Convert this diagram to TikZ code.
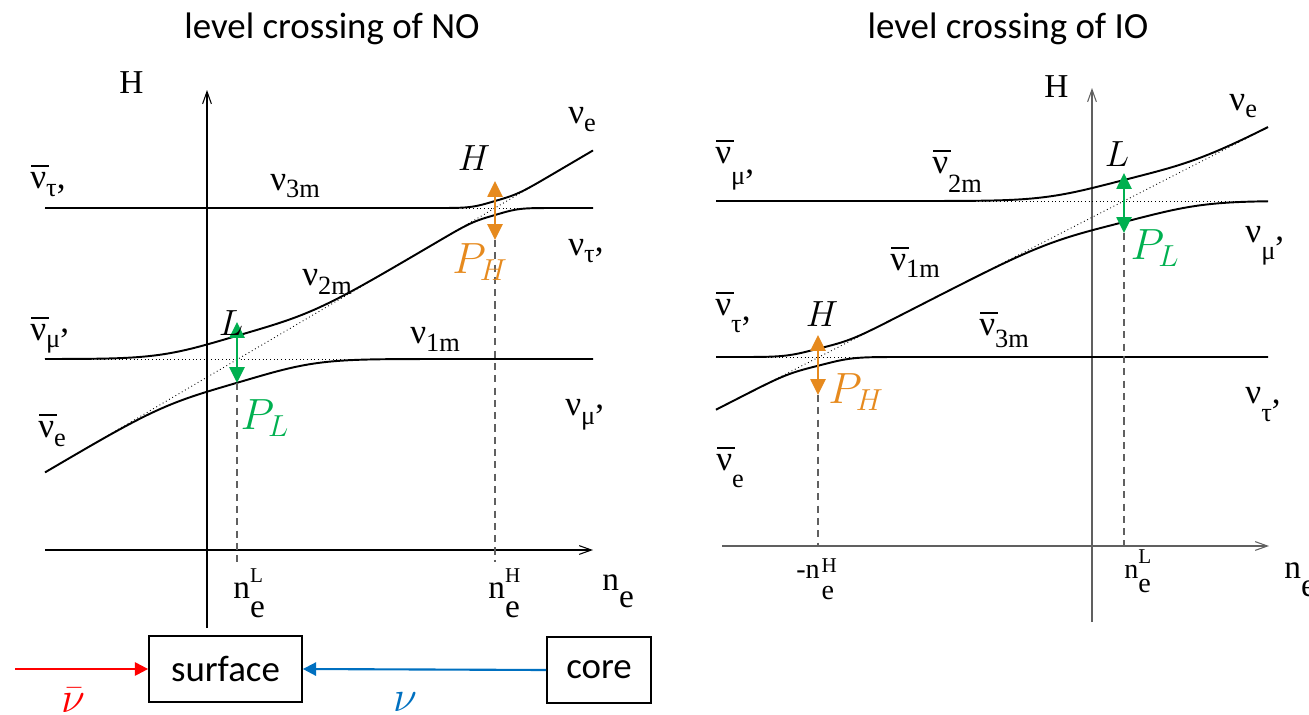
\documentclass[tikz,border=0pt]{standalone}
\usepackage{fontspec}
\setmainfont{Carlito}
\newfontfamily\tms{Liberation Serif}
\usetikzlibrary{arrows.meta}
\definecolor{orng}{HTML}{E68A1E}
\definecolor{grn}{HTML}{00B050}
\definecolor{redc}{HTML}{FF0000}
\definecolor{bluec}{HTML}{0070C0}
\definecolor{axg}{HTML}{606060}
\newcommand\ovl{\rlap{\kern0.03em\rule[0.6em]{0.5em}{0.06em}}}
\newcommand\sbs[2]{\raisebox{-#1}{\fontsize{15}{15}\selectfont#2}}
\newcommand\prm[1]{\raisebox{#1}{,}}
\newcommand\ssz{\fontsize{12}{12}\selectfont}
\tikzset{
  lbl/.style={font=\fontsize{20}{22}\tms, inner sep=0pt, anchor=base west},
  axl/.style={font=\fontsize{19}{22}\tms, inner sep=0pt, anchor=base west},
  axs/.style={font=\fontsize{16}{18}\tms, inner sep=0pt, anchor=base west},
  ttl/.style={font=\fontsize{21}{24}\selectfont, inner sep=0pt, anchor=base},
  lev/.style={line width=1.1pt, line join=round},
  dotl/.style={line width=0.5pt, dash pattern=on 0.5pt off 1.6pt},
  dashl/.style={axg, line width=0.6pt, dash pattern=on 4pt off 3pt},
  axisl/.style={line width=0.6pt, -{Straight Barb[length=7pt,width=5pt]}},
  gaparr/.style={line width=1.3pt, {Triangle[length=9pt,width=8.5pt]}-{Triangle[length=9pt,width=8.5pt]}},
  ital/.style={font=\fontsize{20}{22}\selectfont, inner sep=0pt},
  pl/.style={font=\fontsize{23}{25}\selectfont, inner sep=0pt},
  boxn/.style={draw, line width=1pt, inner sep=0pt, font=\fontsize{21}{24}\selectfont},
  flow/.style={line width=1.2pt, -{Triangle[length=7.5pt,width=7.5pt]}},
  declare function={
    gp(\va,\vb)=100*sqrt((\va)*(\va)+(\vb)*(\vb)*exp(-min((\va)*(\va)/((\vb)*(\vb)),9)));
    dno(\x)=359-0.5875*(\x-238);
    dio(\x)=357-0.5115*(\x-819);
  }
}
\begin{document}
\begin{tikzpicture}[x=0.02cm,y=-0.02cm]
\useasboundingbox (0,0) rectangle (1309,714);

% titles
\node[ttl] (t1) at (332,38) {level crossing of NO};
\node[ttl] (t2) at (1008,38) {level crossing of IO};

% ================= NO panel =================
\coordinate (nx0) at (45,550);
\coordinate (nx1) at (593,550);
\coordinate (ny0) at (207,628);
\coordinate (ny1) at (207,90);
\draw[axisl] (nx0) -- (nx1);
\draw[axisl] (ny0) -- (ny1);

% dotted unmixed levels
\coordinate (nd3a) at (45,208);
\coordinate (nd3b) at (593,208);
\coordinate (nd1a) at (45,359);
\coordinate (nd1b) at (593,359);
\coordinate (ndda) at (45,472.4);
\coordinate (nddb) at (593,150.4);
\draw[dotl] (nd3a) -- (nd3b);
\draw[dotl] (nd1a) -- (nd1b);
\draw[dotl] (ndda) -- (nddb);

% mixed levels
\draw[lev] plot[domain=45:593,samples=160]
  (\x,{(208+dno(\x))/2-gp((dno(\x)-208)/200,0.07)});
\draw[lev] plot[domain=45:593,samples=160]
  (\x,{(359+dno(\x))/2-gp((dno(\x)-359)/200,0.235)+(208+dno(\x))/2+gp((dno(\x)-208)/200,0.07)-dno(\x)});
\draw[lev] plot[domain=45:593,samples=160]
  (\x,{(359+dno(\x))/2+gp((dno(\x)-359)/200,0.235)});

% resonance markers
\coordinate (nLt) at (237,322);
\coordinate (nLb) at (237,383);
\coordinate (nLd) at (237,562);
\coordinate (nHt) at (495,181);
\coordinate (nHb) at (495,240);
\coordinate (nHd) at (495,562);
\draw[dashl] (nLb) -- (nLd);
\draw[dashl] (nHb) -- (nHd);
\draw[gaparr,grn] (nLt) -- (nLb);
\draw[gaparr,orng] (nHt) -- (nHb);

\node[ital] (nL) at (231,323) {$L$};
\node[ital] (nH) at (474,158) {$H$};
\node[pl,grn] (nPL) at (265,418) {$P_L$};
\node[pl,orng] (nPH) at (480,262) {$P_H$};

% level labels
\node[lbl] (a1) at (30,188) {\ovl ν\sbs{5pt}{τ}\prm{0pt}};
\node[lbl] (a2) at (270,190) {ν\sbs{4.5pt}{3m}};
\node[lbl] (a3) at (568,123) {ν\sbs{5pt}{e}};
\node[lbl] (a4) at (568,255) {ν\sbs{4.5pt}{τ}\prm{2pt}};
\node[lbl] (a5) at (302,285) {ν\sbs{5.5pt}{2m}};
\node[lbl] (a6) at (30,340) {\ovl ν\sbs{4.5pt}{μ}\prm{4pt}};
\node[lbl] (a7) at (410,343) {ν\sbs{5pt}{1m}};
\node[lbl] (a8) at (565,415) {ν\sbs{5.5pt}{μ}\prm{3.5pt}};
\node[lbl] (a9) at (38,437) {\ovl ν\sbs{5.5pt}{e}};

% axis labels
\node[axl] (nHax) at (119,93) {H};
\node[axl] (nne) at (602,590) {n\raisebox{-10pt}{e}};
\node[axl] (nneH) at (488,598) {n\rlap{\raisebox{9pt}{\ssz H}}\raisebox{-11pt}{e}};
\node[axl] (nneL) at (233,598) {n\rlap{\raisebox{9pt}{\ssz L}}\raisebox{-11pt}{e}};

% ================= IO panel =================
\coordinate (ix0) at (722,546);
\coordinate (ix1) at (1269,546);
\coordinate (iy0) at (1092,622);
\coordinate (iy1) at (1092,88);
\draw[axisl,axg] (ix0) -- (ix1);
\draw[axisl,axg] (iy0) -- (iy1);

\coordinate (id2a) at (716,201);
\coordinate (id2b) at (1268,201);
\coordinate (id3a) at (716,357);
\coordinate (id3b) at (1268,357);
\coordinate (idda) at (716,409.7);
\coordinate (iddb) at (1268,127.3);
\draw[dotl] (id2a) -- (id2b);
\draw[dotl] (id3a) -- (id3b);
\draw[dotl] (idda) -- (iddb);

\draw[lev] plot[domain=716:1268,samples=160]
  (\x,{(201+dio(\x))/2-gp((dio(\x)-201)/200,0.21)});
\draw[lev] plot[domain=716:1268,samples=160]
  (\x,{(357+dio(\x))/2-gp((dio(\x)-357)/200,0.085)+(201+dio(\x))/2+gp((dio(\x)-201)/200,0.21)-dio(\x)});
\draw[lev] plot[domain=716:1268,samples=160]
  (\x,{(357+dio(\x))/2+gp((dio(\x)-357)/200,0.085)});

\coordinate (iHt) at (818,335);
\coordinate (iHb) at (818,395);
\coordinate (iHd) at (818,546);
\coordinate (iLt) at (1124,173);
\coordinate (iLb) at (1124,233);
\coordinate (iLd) at (1124,546);
\draw[dashl] (iHb) -- (iHd);
\draw[dashl] (iLb) -- (iLd);
\draw[gaparr,orng] (iHt) -- (iHb);
\draw[gaparr,grn] (iLt) -- (iLb);

\node[ital] (iH) at (822,314) {$H$};
\node[ital] (iL) at (1117,154) {$L$};
\node[pl,grn] (iPL) at (1155,248) {$P_L$};
\node[pl,orng] (iPH) at (856,392) {$P_H$};

\node[lbl] (b1) at (715,163) {\ovl ν\sbs{12pt}{μ}\prm{-6pt}};
\node[lbl] (b2) at (932,173) {\ovl ν\sbs{11pt}{2m}};
\node[lbl] (b3) at (1229,110) {ν\sbs{4pt}{e}};
\node[lbl] (b4) at (890,270) {\ovl ν\sbs{4.5pt}{1m}};
\node[lbl] (b5) at (1245,242) {ν\sbs{10pt}{μ}\prm{1pt}};
\node[lbl] (b6) at (715,315) {\ovl ν\sbs{10pt}{τ}\prm{-3pt}};
\node[lbl] (b7) at (979,335) {\ovl ν\sbs{7pt}{3m}};
\node[lbl] (b8) at (1245,403) {ν\sbs{10.5pt}{τ}\prm{0pt}};
\node[lbl] (b9) at (716,470) {\ovl ν\sbs{10pt}{e}};

\node[axl] (iHax) at (1044,97) {H};
\node[axl] (ine) at (1284,578) {n\raisebox{-10.5pt}{e}};
\node[axs] (ineH) at (796,578) {-n\kern1pt\rlap{\raisebox{3pt}{\ssz H}}\raisebox{-12pt}{e}};
\node[axs] (ineL) at (1124,578) {n\rlap{\raisebox{8pt}{\ssz L}}\raisebox{-8pt}{e}};

% ================= bottom flow =================
\node[boxn, minimum width=3.06cm, minimum height=1.32cm] (surf) at (225.5,669) {surface};
\node[boxn, minimum width=2.08cm, minimum height=1.32cm] (core) at (599,670) {core};
\coordinate (vin) at (15,669);
\draw[flow,redc] (vin) -- (surf.west);
\draw[flow,bluec] (core.west) -- (surf.east);
\node[ital,redc,font=\fontsize{23}{25}\selectfont] (vbar) at (73,700) {$\bar{\nu}$};
\node[ital,bluec,font=\fontsize{23}{25}\selectfont] (vnu) at (405,702) {$\nu$};
\end{tikzpicture}
\end{document}
